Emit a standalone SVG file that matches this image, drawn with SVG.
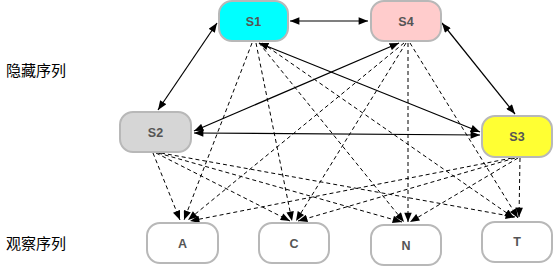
<svg xmlns="http://www.w3.org/2000/svg" width="553" height="266" viewBox="0 0 553 266">
<style>
.node rect{stroke:#b8b8b8;stroke-width:2}
.node text{font-family:"Liberation Sans",Arial,sans-serif;font-size:12.5px;font-weight:bold;fill:#555;text-anchor:middle}
.lbl{font-family:"Noto Sans CJK SC",sans-serif;font-size:15px;fill:#000}
.solid{stroke:#000;stroke-width:1.2;fill:none;marker-start:url(#ah);marker-end:url(#ah)}
.dash{stroke:#000;stroke-width:1;fill:none;stroke-dasharray:4,3;marker-end:url(#ah)}
</style>
<defs>
<marker id="ah" viewBox="0 0 10 8" refX="10" refY="4" markerWidth="10" markerHeight="7.5" markerUnits="userSpaceOnUse" orient="auto-start-reverse">
<path d="M0,0 L10,4 L0,8 Z" fill="#000"/>
</marker>
</defs>
<rect width="553" height="266" fill="#fff"/>
<text class="lbl" x="6" y="76">隐藏序列</text>
<text class="lbl" x="6" y="249">观察序列</text>
<g id="connectors">
<line class="solid" x1="290" y1="21" x2="368" y2="21"/>
<line class="solid" x1="217" y1="23" x2="158" y2="110"/>
<line class="solid" x1="442" y1="23" x2="515" y2="114"/>
<line class="solid" x1="259" y1="43" x2="480" y2="132"/>
<line class="solid" x1="399" y1="43" x2="194" y2="131"/>
<line class="solid" x1="194" y1="133" x2="480" y2="135"/>
<line class="dash" x1="252" y1="43" x2="184" y2="220"/>
<line class="dash" x1="256" y1="43" x2="292" y2="221"/>
<line class="dash" x1="259" y1="43" x2="404" y2="222"/>
<line class="dash" x1="262" y1="43" x2="514" y2="218"/>
<line class="dash" x1="404" y1="43" x2="188" y2="220"/>
<line class="dash" x1="406" y1="43" x2="296" y2="221"/>
<line class="dash" x1="408" y1="43" x2="408" y2="222"/>
<line class="dash" x1="410" y1="43" x2="518" y2="218"/>
<line class="dash" x1="153" y1="153" x2="180" y2="220"/>
<line class="dash" x1="156" y1="153" x2="290" y2="221"/>
<line class="dash" x1="158" y1="153" x2="402" y2="222"/>
<line class="dash" x1="161" y1="153" x2="515" y2="217"/>
<line class="dash" x1="512" y1="158" x2="190" y2="221"/>
<line class="dash" x1="515" y1="158" x2="298" y2="221"/>
<line class="dash" x1="518" y1="158" x2="410" y2="222"/>
<line class="dash" x1="520" y1="158" x2="519" y2="217"/>
</g>
<g id="S1" class="node"><rect x="219" y="1" width="69" height="40" rx="13" fill="#00ffff"/><text x="253.5" y="26">S1</text></g>
<g id="S4" class="node"><rect x="371" y="1" width="70" height="40" rx="13" fill="#ffcccc"/><text x="406" y="26">S4</text></g>
<g id="S2" class="node"><rect x="120" y="112" width="71" height="40" rx="13" fill="#d6d6d6"/><text x="155.5" y="137">S2</text></g>
<g id="S3" class="node"><rect x="482" y="116" width="70" height="41" rx="13" fill="#ffff33"/><text x="517" y="141">S3</text></g>
<g id="A" class="node"><rect x="147" y="223" width="71" height="40" rx="13" fill="#fff"/><text x="182.5" y="248">A</text></g>
<g id="C" class="node"><rect x="259" y="223" width="70" height="40" rx="13" fill="#fff"/><text x="294" y="248">C</text></g>
<g id="N" class="node"><rect x="371" y="225" width="70" height="40" rx="13" fill="#fff"/><text x="406" y="250">N</text></g>
<g id="T" class="node"><rect x="482" y="222" width="70" height="40" rx="13" fill="#fff"/><text x="517" y="246">T</text></g>
</svg>
